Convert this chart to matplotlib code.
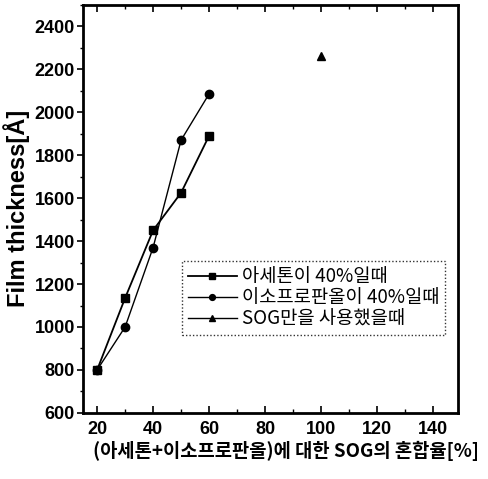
import matplotlib.pyplot as plt
from matplotlib.ticker import MultipleLocator

plt.rcParams['font.family'] = ['Noto Sans CJK KR', 'DejaVu Sans']

# data
ratio = [20, 30, 40, 50, 60]
acetone = [800, 1135, 1450, 1625, 1890]
ipa = [800, 1000, 1370, 1870, 2085]
sog_x = [100]
sog_y = [2260]

labels = ['아세톤이 40%일때', '이소프로판올이 40%일때', 'SOG만을 사용했을때']

fig = plt.figure(figsize=(4.89, 4.79), dpi=100)
ax = fig.add_axes([0.170, 0.138, 0.767, 0.852])

ax.plot(ratio, acetone, 'k-', marker='s', ms=6, lw=1.3, label=labels[0])
ax.plot(ratio, ipa, 'k-', marker='o', ms=6, lw=1.0, label=labels[1])
ax.plot(sog_x, sog_y, 'k-', marker='^', ms=6, lw=1.0, label=labels[2])

ax.set_xlim(15, 149)
ax.set_ylim(600, 2500)
ax.xaxis.set_major_locator(MultipleLocator(20))
ax.xaxis.set_minor_locator(MultipleLocator(10))
ax.yaxis.set_major_locator(MultipleLocator(200))
ax.yaxis.set_minor_locator(MultipleLocator(100))
ax.tick_params(axis='x', which='both', direction='in', top=True)
ax.tick_params(axis='x', which='major', length=5, width=1.2, pad=6)
ax.tick_params(axis='x', which='minor', length=3, width=1.0)
ax.tick_params(axis='y', which='major', direction='out', length=4, width=1.2, pad=2)
ax.tick_params(axis='y', which='minor', direction='out', length=2, width=1.0)
ax.tick_params(labelsize=13)
for t in ax.get_xticklabels() + ax.get_yticklabels():
    t.set_fontweight('bold')
    t.set_family(['Liberation Sans', 'DejaVu Sans'])
for s in ax.spines.values():
    s.set_linewidth(2)

ax.set_ylabel('Film thickness[Å]', fontsize=17, fontweight='bold',
              family=['Liberation Sans', 'DejaVu Sans'], labelpad=3)
ax.set_xlabel('(아세톤+이소프로판올)에 대한 SOG의 혼합율[%]', fontsize=13.5,
              fontweight='bold', labelpad=2, x=0.54)

leg = ax.legend(loc='upper left', bbox_to_anchor=(0.264, 0.373), fontsize=13.5,
                frameon=True, fancybox=False, handlelength=2.6, handletextpad=0.3,
                borderpad=0.3, labelspacing=0.0, markerscale=0.7, borderaxespad=0)
leg.get_frame().set_edgecolor('black')
leg.get_frame().set_linestyle((0, (1, 1.5)))
leg.get_frame().set_linewidth(1.0)

fig.savefig('out.png', dpi=100)
